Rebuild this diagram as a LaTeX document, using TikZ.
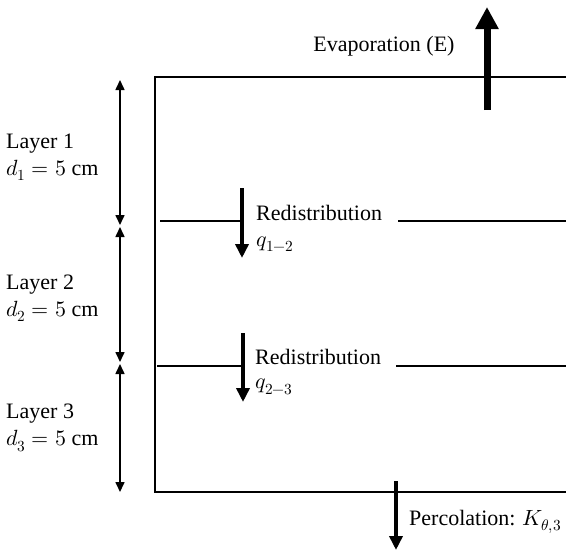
\documentclass[tikz,border=0pt]{standalone}
\usepackage{amsmath}
\usepackage{fontspec}
\usepackage{unicode-math}
\setmainfont{Liberation Serif}
\setmathfont{Latin Modern Math}
\usetikzlibrary{positioning,arrows.meta}

\tikzset{
  soil/.style={line width=2pt},
  depth/.style={{Triangle[length=10pt,width=9pt]}-{Triangle[length=10pt,width=9pt]}, line width=1.6pt},
  flux/.style={-{Triangle[length=14pt,width=13pt]}, line width=4pt},
  bigflux/.style={-{Triangle[length=22pt,width=22pt]}, line width=7pt},
  lbl/.style={text centered, inner sep=0pt, font=\fontsize{22}{27}\selectfont}
}

\begin{document}
\begin{tikzpicture}[x=1pt,y=-1pt]
\useasboundingbox (0,0) rectangle (566,550);

% Soil column %
\coordinate (tl) at (155,77);
\coordinate (tr) at (566,77);
\coordinate (bl) at (155,492);
\coordinate (br) at (566,492);
\draw[soil] (tr) -- (tl) -- (bl) -- (br);

% Layer boundaries %
\coordinate (b1a) at (160,221);
\coordinate (b1b) at (242,221);
\coordinate (b1c) at (398,221);
\coordinate (b1d) at (566,221);
\coordinate (b2a) at (157,366);
\coordinate (b2b) at (243,366);
\coordinate (b2c) at (396,366);
\coordinate (b2d) at (566,366);
\draw[soil] (b1a) -- (b1b);
\draw[soil] (b1c) -- (b1d);
\draw[soil] (b2a) -- (b2b);
\draw[soil] (b2c) -- (b2d);

% Depth arrows %
\coordinate (d0) at (120,80);
\coordinate (d1) at (120,225);
\coordinate (d2) at (120,227);
\coordinate (d3) at (120,362);
\coordinate (d4) at (120,364);
\coordinate (d5) at (120,492);
\draw[depth] (d0) -- (d1);
\draw[depth] (d2) -- (d3);
\draw[depth] (d4) -- (d5);

% Layer labels %
\node[lbl, align=left, anchor=west] (lay1) at (6,157) {Layer 1\\$d_1 = 5$ cm};
\node[lbl, align=left, anchor=west] (lay2) at (6,298) {Layer 2\\$d_2 = 5$ cm};
\node[lbl, align=left, anchor=west] (lay3) at (6,428) {Layer 3\\$d_3 = 5$ cm};

% Fluxes %
\coordinate (ev0) at (487,110);
\coordinate (ev1) at (487,7);
\draw[bigflux] (ev0) -- (ev1);
\node[lbl] (evap) at (384,46) {Evaporation (E)};

\coordinate (r1a) at (242,188);
\coordinate (r1b) at (242,258);
\draw[flux] (r1a) -- (r1b);
\node[lbl, anchor=west] (red1) at (256,213) {Redistribution};
\node[lbl, anchor=west] (q12) at (256,244) {$q_{1-2}$};

\coordinate (r2a) at (243,333);
\coordinate (r2b) at (243,402);
\draw[flux] (r2a) -- (r2b);
\node[lbl, anchor=west] (red2) at (255,357) {Redistribution};
\node[lbl, anchor=west] (q23) at (255,387) {$q_{2-3}$};

\coordinate (pc0) at (396,481);
\coordinate (pc1) at (396,550);
\draw[flux] (pc0) -- (pc1);
\node[lbl, anchor=west] (perc) at (409,522) {Percolation: $K_{\theta,3}$};

\end{tikzpicture}
\end{document}
